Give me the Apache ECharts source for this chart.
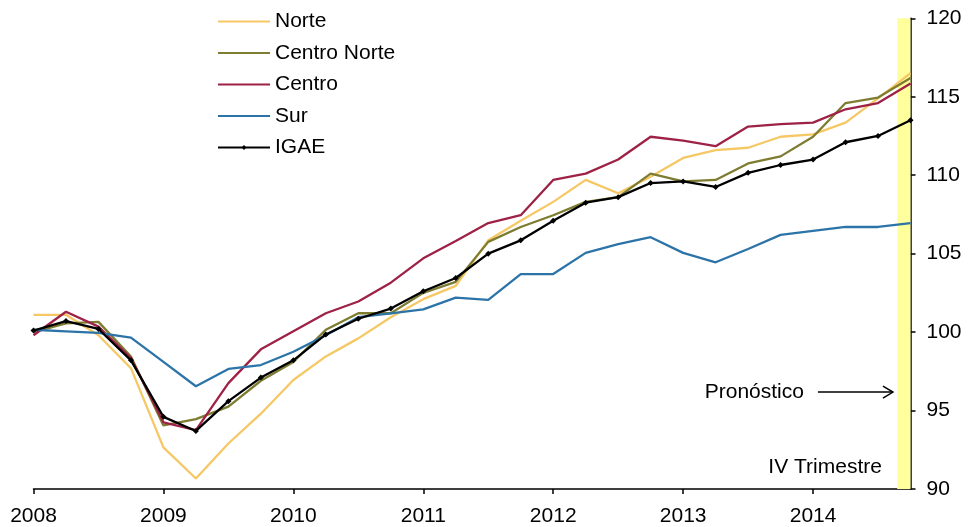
<!DOCTYPE html>
<html>
<head>
<meta charset="utf-8">
<script src="https://cdn.jsdelivr.net/npm/echarts@6/dist/echarts.min.js"></script>
<style>
html,body{margin:0;padding:0;background:#fff;}
#chart{width:970px;height:527px;}
</style>
</head>
<body>
<div id="chart"></div>
<script>
// Quarterly index, 2008 Q1 .. 2014 Q4 (x = quarter index)
const startYear = 2008;
const yearTicks = [0, 4, 8, 12, 16, 20, 24];
const seriesNames = ['Norte', 'Centro Norte', 'Centro', 'Sur', 'IGAE'];
const norte = [101.1, 101.1, 99.8, 97.7, 92.65, 90.67, 92.9, 94.8, 96.95, 98.45, 99.6, 100.95, 102.1, 102.95, 105.85, 107.1, 108.3, 109.7, 108.85, 109.9, 111.1, 111.6, 111.75, 112.45, 112.6, 113.35, 114.9, 116.5];
const centroNorte = [100.0, 100.55, 100.65, 98.45, 94.05, 94.45, 95.25, 96.9, 98.1, 100.15, 101.2, 101.2, 102.5, 103.2, 105.75, 106.7, 107.45, 108.3, 108.6, 110.1, 109.6, 109.7, 110.75, 111.2, 112.45, 114.6, 114.95, 116.2];
const centro = [99.8, 101.3, 100.35, 98.35, 94.25, 93.75, 96.75, 98.9, 100.05, 101.2, 101.95, 103.15, 104.7, 105.8, 106.95, 107.45, 109.7, 110.1, 111.0, 112.45, 112.2, 111.85, 113.1, 113.25, 113.35, 114.2, 114.6, 115.85];
const sur = [100.15, 100.05, 99.95, 99.65, 98.1, 96.55, 97.65, 97.9, 98.75, 99.8, 100.95, 101.2, 101.45, 102.2, 102.05, 103.7, 103.7, 105.05, 105.6, 106.05, 105.05, 104.45, 105.3, 106.2, 106.45, 106.7, 106.7, 106.95];
const igae = [100.1, 100.7, 100.2, 98.2, 94.6, 93.7, 95.6, 97.1, 98.2, 99.85, 100.85, 101.5, 102.6, 103.45, 105.0, 105.85, 107.1, 108.25, 108.6, 109.5, 109.6, 109.25, 110.15, 110.65, 111.0, 112.1, 112.5, 113.5];
const forecastBand = [26.59, 27];
const yTicks = {min: 90, max: 120, interval: 5};
const annoForecast = 'Pronóstico';
const annoQuarter = 'IV Trimestre';

const colors = ['#F5C865', '#7E7C30', '#9E2146', '#2C74A8', '#000000'];
const font = 'Liberation Sans, Arial, sans-serif';
const fs = 21;

function pairs(arr){ return arr.map((v,i)=>[i,v]); }

const chart = echarts.init(document.getElementById('chart'), null, {renderer:'canvas'});
const allData = [norte, centroNorte, centro, sur, igae];

const series = [{
  type:'line', name:'__band', data:[], silent:true, z:0,
  markArea:{silent:true, itemStyle:{color:'#FFFF9C', opacity:1},
    data:[[{xAxis: forecastBand[0]}, {xAxis: forecastBand[1]}]]}
}];
allData.forEach((d, k)=>{
  const isIgae = seriesNames[k] === 'IGAE';
  series.push({
    type:'line', name: seriesNames[k], data: pairs(d), z: 2 + k,
    symbol: isIgae ? 'diamond' : 'none', symbolSize: isIgae ? 6 : 0,
    showSymbol: isIgae,
    lineStyle:{width: 2.3, color: colors[k]},
    itemStyle:{color: colors[k]},
    animation:false
  });
});

const legendData = seriesNames.map(n => n === 'IGAE'
  ? {name:n}
  : {name:n, itemStyle:{opacity:0}});

chart.setOption({
  animation:false,
  backgroundColor:'#fff',
  textStyle:{fontFamily: font},
  grid:{left:33.5, right:59.5, top:18.3, bottom:38, containLabel:false, outerBoundsMode:'none'},
  legend:{
    data: legendData,
    orient:'vertical', left:217, top:11, padding:0,
    itemWidth:52, itemHeight:6, itemGap:10.5,
    textStyle:{fontSize:fs, color:'#000', fontFamily: font, lineHeight:21}
  },
  xAxis:{
    type:'value', min:0, max:27,
    axisLine:{show:true, onZero:false, lineStyle:{color:'#000', width:1.5}},
    axisTick:{show:true, length:5, lineStyle:{color:'#000', width:1.5}, customValues: yearTicks},
    axisLabel:{color:'#000', fontSize:fs, margin:17, fontFamily: font,
      customValues: yearTicks, formatter: v => String(startYear + v/4)},
    splitLine:{show:false}
  },
  yAxis:{
    type:'value', position:'right', min:yTicks.min, max:yTicks.max, interval:yTicks.interval,
    axisLine:{show:true, onZero:false, lineStyle:{color:'#000', width:1.5}},
    axisTick:{show:true, length:5, inside:false, lineStyle:{color:'#000', width:1.5}},
    axisLabel:{color:'#000', fontSize:fs, margin:16, fontFamily: font},
    splitLine:{show:false}
  },
  series: series
});

// annotations placed in data coordinates
const pText = chart.convertToPixel({gridIndex:0}, [23.72, 96.18]);
const pA1 = chart.convertToPixel({gridIndex:0}, [24.15, 96.18]);
const pA2 = chart.convertToPixel({gridIndex:0}, [26.46, 96.18]);
const pQ = chart.convertToPixel({gridIndex:0}, [26.12, 91.36]);
chart.setOption({
  graphic:[
    {type:'text', x:pText[0], y:pText[1], z:50,
      style:{text: annoForecast, font: fs + 'px ' + font, fill:'#000', align:'right', verticalAlign:'middle'}},
    {type:'polyline', z:50, shape:{points:[[pA1[0], pA1[1]], [pA2[0], pA2[1]]]},
      style:{stroke:'#000', lineWidth:1.5, fill:null}},
    {type:'polyline', z:50, shape:{points:[[pA2[0]-10, pA2[1]-6], [pA2[0], pA2[1]], [pA2[0]-10, pA2[1]+6]]},
      style:{stroke:'#000', lineWidth:1.5, fill:null}},
    {type:'text', x:pQ[0], y:pQ[1], z:50,
      style:{text: annoQuarter, font: fs + 'px ' + font, fill:'#000', align:'right', verticalAlign:'middle'}}
  ]
});
</script>
</body>
</html>
